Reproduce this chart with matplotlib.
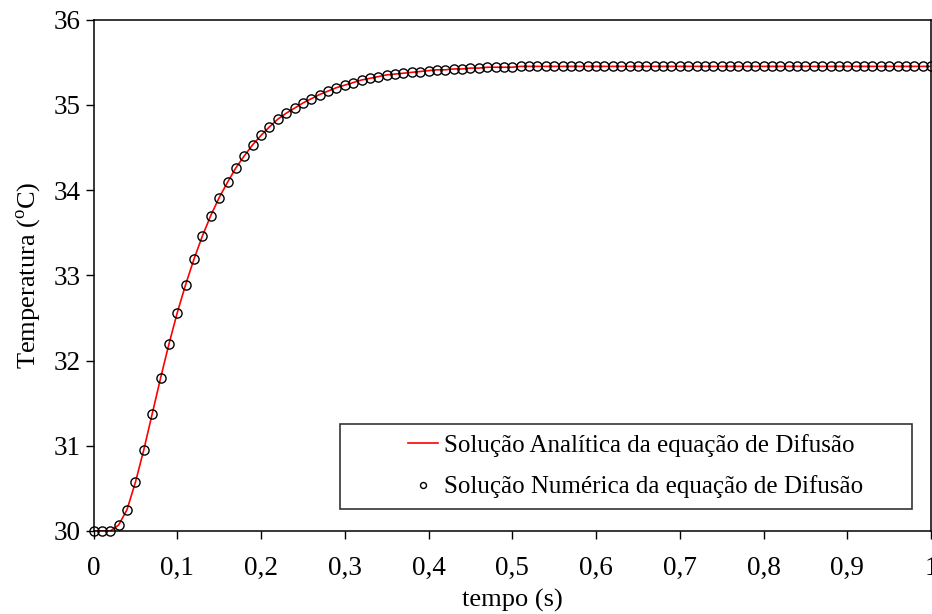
import numpy as np
import matplotlib
matplotlib.use("Agg")
import matplotlib.pyplot as plt
from matplotlib.ticker import FuncFormatter
from matplotlib.patches import Rectangle

plt.rcParams['font.family'] = ['Liberation Serif', 'DejaVu Serif']
plt.rcParams['mathtext.fontset'] = 'custom'
plt.rcParams['mathtext.rm'] = 'Liberation Serif'

# time grid (s)
tempo = np.linspace(0.0, 1.0, 101)

# temperature values (°C)
temperatura = [
    30.00, 30.00, 30.00, 30.07, 30.25, 30.57, 30.95, 31.37, 31.79, 32.19,
    32.56, 32.89, 33.19, 33.46, 33.70, 33.91, 34.09, 34.26, 34.40, 34.53,
    34.64, 34.74, 34.83, 34.90, 34.96, 35.02, 35.07, 35.12, 35.16, 35.20,
    35.23, 35.26, 35.29, 35.31, 35.33, 35.35, 35.36, 35.37, 35.38, 35.39,
    35.40, 35.41, 35.41, 35.42, 35.42, 35.43, 35.43, 35.44, 35.44, 35.44,
    35.44, 35.45, 35.45, 35.45, 35.45, 35.45, 35.45, 35.45, 35.45, 35.45,
    35.45, 35.45, 35.45, 35.45, 35.45, 35.45, 35.45, 35.45, 35.45, 35.45,
    35.45, 35.45, 35.45, 35.45, 35.45, 35.45, 35.45, 35.45, 35.45, 35.45,
    35.45, 35.45, 35.45, 35.45, 35.45, 35.45, 35.45, 35.45, 35.45, 35.45,
    35.45, 35.45, 35.45, 35.45, 35.45, 35.45, 35.45, 35.45, 35.45, 35.45,
    35.45,
]

x_ticks = [0, 0.1, 0.2, 0.3, 0.4, 0.5, 0.6, 0.7, 0.8, 0.9, 1.0]
y_ticks = [30, 31, 32, 33, 34, 35, 36]

label_analitica = "Solução Analítica da equação de Difusão"
label_numerica = "Solução Numérica da equação de Difusão"

W, H = 932, 614
fig = plt.figure(figsize=(W / 100, H / 100), dpi=100)
ax = fig.add_axes([93.5 / W, 1 - 531 / H, (931 - 93.5) / W, (531 - 19.5) / H])

ax.plot(tempo, temperatura, color='red', lw=1.2, label=label_analitica, zorder=2)
ax.plot(tempo, temperatura, linestyle='none', marker='o', markersize=6.6,
        markerfacecolor='none', markeredgecolor='black', markeredgewidth=1.0,
        label=label_numerica, zorder=3, clip_on=False)

ax.set_xlim(0, 1)
ax.set_ylim(30, 36)
ax.set_xticks(x_ticks)
ax.set_yticks(y_ticks)
ax.xaxis.set_major_formatter(FuncFormatter(
    lambda v, p: ('%g' % v).replace('.', ',')))
ax.tick_params(direction='out', length=6, width=1, labelsize=19.5)
ax.tick_params(axis='x', pad=12)
ax.tick_params(axis='y', pad=3)
for s in ax.spines.values():
    s.set_linewidth(1.1)

ax.set_xlabel('tempo (s)', fontsize=19, labelpad=6)
ax.set_ylabel('Temperatura ($^{\\mathrm{o}}$C)', fontsize=19, labelpad=8)

# legend box (frame drawn separately, as in the reference)
box = Rectangle((340 / W, 1 - 509 / H), (912 - 340) / W, (509 - 424) / H,
                transform=fig.transFigure, facecolor='white',
                edgecolor='#333333', linewidth=1.2, zorder=4, clip_on=False)
ax.add_patch(box)
leg = ax.legend(loc='center left', bbox_to_anchor=(408 / W, 1 - 466 / H),
                bbox_transform=fig.transFigure,
                fontsize=18, frameon=False,
                handlelength=1.2, handletextpad=0.25, borderpad=0,
                labelspacing=0.75, borderaxespad=0, markerscale=0.65)
leg.set_zorder(5)

fig.savefig('out.png', dpi=100)
